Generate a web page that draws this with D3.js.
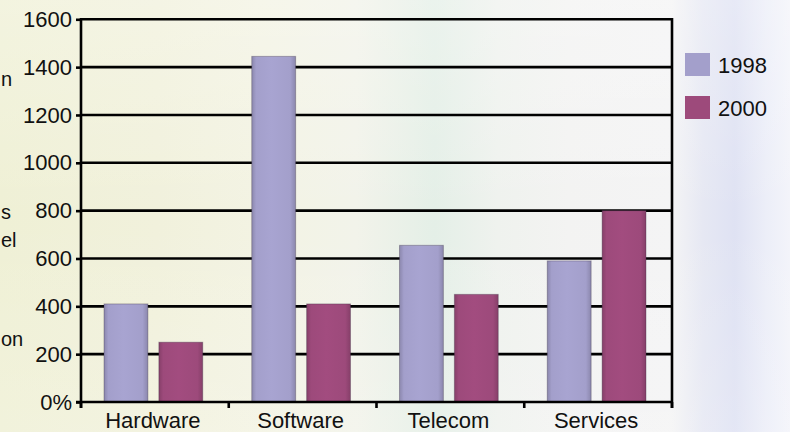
<!DOCTYPE html>
<html>
<head>
<meta charset="utf-8">
<script src="https://cdn.jsdelivr.net/npm/d3@7/dist/d3.min.js"></script>
<style>
  html, body { margin: 0; padding: 0; background: #f3f3ee; }
  svg { display: block; }
  text { font-family: "Liberation Sans", Arial, sans-serif; fill: #111; }
</style>
</head>
<body>
<svg id="chart" width="790" height="432"></svg>
<script>
// ---- data ----
const categories = ["Hardware", "Software", "Telecom", "Services"];
const seriesNames = ["1998", "2000"];
const values1998 = [410, 1445, 655, 590];
const values2000 = [250, 410, 450, 800];
const yTickValues = [0, 200, 400, 600, 800, 1000, 1200, 1400, 1600];
const yTickLabels = ["0%", "200", "400", "600", "800", "1000", "1200", "1400", "1600"];
const seriesColors = ["#a39fcb", "#9d4a7b"];
const sideFragments = ["n", "s", "el", "on"];

const W = 790, H = 432;
const margin = { left: 81, right: 118, top: 19.3, bottom: 30 };
const x0L = margin.left, x0R = W - margin.right; // 81 .. 672
const yTop = margin.top, yBot = H - margin.bottom; // 19.3 .. 402

const svg = d3.select("#chart");
const defs = svg.append("defs");

// background gradient
const bg = defs.append("linearGradient").attr("id", "bg").attr("x1", "0").attr("x2", "1").attr("y1", "0").attr("y2", "0");
[[0, "#eff0d5"], [0.2, "#f1f1dc"], [0.33, "#f3f3e3"], [0.45, "#f2f3ea"], [0.55, "#e4efe7"], [0.63, "#eff2ee"], [0.72, "#f3f3f2"], [0.85, "#f4f4f5"], [0.89, "#e6e8f3"], [0.93, "#dfe2f3"], [0.97, "#eceef8"], [1, "#f3f4fa"]]
  .forEach(([o, c]) => bg.append("stop").attr("offset", o).attr("stop-color", c));
svg.append("rect").attr("width", W).attr("height", H).attr("fill", "url(#bg)");
const bgv = defs.append("linearGradient").attr("id", "bgv").attr("x1", "0").attr("x2", "0").attr("y1", "0").attr("y2", "1");
bgv.append("stop").attr("offset", 0).attr("stop-color", "#ffffff").attr("stop-opacity", 0.25);
bgv.append("stop").attr("offset", 0.5).attr("stop-color", "#ffffff").attr("stop-opacity", 0);
bgv.append("stop").attr("offset", 1).attr("stop-color", "#ffffff").attr("stop-opacity", 0.15);
svg.append("rect").attr("width", W).attr("height", H).attr("fill", "url(#bgv)");

// bar gradients
seriesColors.forEach((c, i) => {
  const g = defs.append("linearGradient").attr("id", "bar" + i).attr("x1", "0").attr("x2", "1").attr("y1", "0").attr("y2", "0");
  const dark = d3.color(c).darker(0.45).formatHex();
  const light = d3.color(c).brighter(0.08).formatHex();
  g.append("stop").attr("offset", 0).attr("stop-color", dark);
  g.append("stop").attr("offset", 0.1).attr("stop-color", c);
  g.append("stop").attr("offset", 0.45).attr("stop-color", light);
  g.append("stop").attr("offset", 0.88).attr("stop-color", c);
  g.append("stop").attr("offset", 1).attr("stop-color", dark);
});

// scales
const x0 = d3.scaleBand().domain(categories).range([x0L, x0R]).padding(0);
const x1 = d3.scaleBand().domain(seriesNames).range([23, x0.bandwidth() - 26]).paddingInner(0.2).paddingOuter(0);
const y = d3.scaleLinear().domain([0, 1600]).range([yBot, yTop]);

// gridlines
svg.append("g").selectAll("line").data(yTickValues.filter(v => v > 0)).join("line")
  .attr("x1", x0L).attr("x2", x0R)
  .attr("y1", d => y(d)).attr("y2", d => y(d))
  .attr("stroke", "#000").attr("stroke-width", 2.6);

// right border
svg.append("line").attr("x1", x0R).attr("x2", x0R).attr("y1", y(1600) - 1.3).attr("y2", yBot + 6)
  .attr("stroke", "#000").attr("stroke-width", 2.6);

// bars
const rows = categories.map((c, i) => ({ cat: c, vals: [values1998[i], values2000[i]] }));
const grp = svg.append("g").selectAll("g").data(rows).join("g")
  .attr("transform", d => `translate(${x0(d.cat)},0)`);
grp.selectAll("rect").data(d => d.vals.map((v, i) => ({ s: seriesNames[i], i, v }))).join("rect")
  .attr("x", d => x1(d.s))
  .attr("width", x1.bandwidth())
  .attr("y", d => y(d.v))
  .attr("height", d => y(0) - y(d.v))
  .attr("fill", d => `url(#bar${d.i})`)
  .attr("stroke", "rgba(60,50,70,0.35)")
  .attr("stroke-width", 1);

// y axis
const yAxis = d3.axisLeft(y).tickValues(yTickValues).tickSize(5).tickSizeOuter(0).tickPadding(4)
  .tickFormat((d, i) => yTickLabels[i]);
const ya = svg.append("g").attr("transform", `translate(${x0L},0)`).call(yAxis);
ya.select(".domain").remove();
ya.selectAll(".tick line").attr("stroke", "#000").attr("stroke-width", 2.6);
ya.selectAll(".tick text").attr("font-size", 22).attr("font-family", "Liberation Sans, Arial, sans-serif").attr("fill", "#111");
svg.append("line").attr("x1", x0L).attr("x2", x0L).attr("y1", y(1600) - 1.3).attr("y2", yBot + 6)
  .attr("stroke", "#000").attr("stroke-width", 2.6);

// x axis
const boundaries = categories.map(c => x0(c)).concat([x0R]);
const xa = svg.append("g").attr("transform", `translate(0,${yBot})`);
xa.append("line").attr("x1", x0L - 5).attr("x2", x0R).attr("y1", 0).attr("y2", 0).attr("stroke", "#000").attr("stroke-width", 2.6);
xa.selectAll("line.tk").data(boundaries).join("line").attr("class", "tk")
  .attr("x1", d => d).attr("x2", d => d).attr("y1", 0).attr("y2", 6)
  .attr("stroke", "#000").attr("stroke-width", 2.6);
xa.selectAll("text").data(categories).join("text")
  .attr("x", d => x0(d) + x0.bandwidth() / 2 - 2)
  .attr("y", 26)
  .attr("text-anchor", "middle")
  .attr("font-size", 22)
  .text(d => d);

// legend
const lg = svg.append("g").attr("transform", "translate(685,53)");
seriesNames.forEach((s, i) => {
  const g = lg.append("g").attr("transform", `translate(0,${i * 43})`);
  g.append("rect").attr("width", 25).attr("height", 23).attr("fill", seriesColors[i]);
  g.append("text").attr("x", 33).attr("y", 20).attr("font-size", 22).text(s);
});

// text fragments at left edge (kept fully visible)
const fragY = [86, 219, 247, 346];
svg.append("g").selectAll("text").data(sideFragments).join("text")
  .attr("x", 1).attr("y", (d, i) => fragY[i])
  .attr("text-anchor", "start").attr("font-size", 20).text(d => d);
</script>
</body>
</html>
